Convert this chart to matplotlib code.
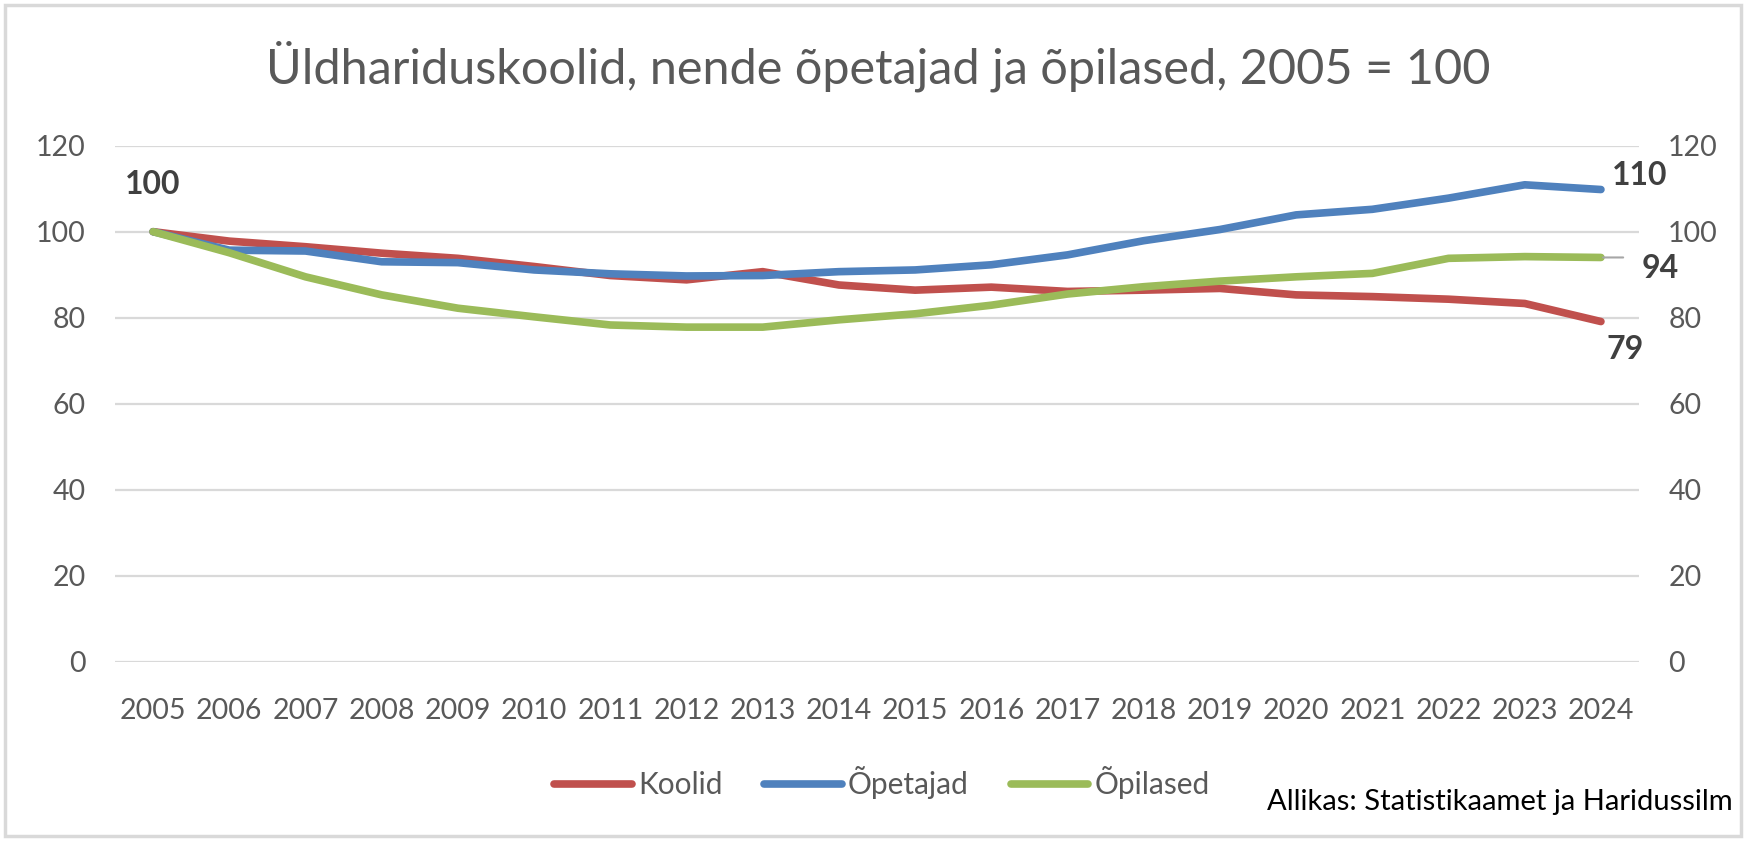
import matplotlib.pyplot as plt
from matplotlib.patches import Rectangle

plt.rcParams["font.family"] = ["Lato", "DejaVu Sans"]

years = [str(y) for y in range(2005, 2025)]
koolid = [100, 97.8, 96.5, 95.0, 93.8, 91.9, 89.8, 88.8, 90.7, 87.6,
          86.4, 87.1, 86.1, 86.4, 86.8, 85.3, 84.9, 84.3, 83.3, 79.1]
opetajad = [100, 95.7, 95.5, 93.0, 92.8, 91.1, 90.2, 89.7, 89.8, 90.7,
            91.1, 92.3, 94.6, 97.9, 100.5, 103.9, 105.2, 107.8, 110.9, 109.8]
opilased = [100, 95.1, 89.5, 85.3, 82.2, 80.2, 78.3, 77.8, 77.8, 79.5,
            80.9, 82.9, 85.5, 87.2, 88.5, 89.5, 90.3, 93.8, 94.2, 94.0]
yticks = [0, 20, 40, 60, 80, 100, 120]

title = "Üldhariduskoolid, nende õpetajad ja õpilased, 2005 = 100"
source = "Allikas: Statistikaamet ja Haridussilm"

RED = "#C0504D"
BLUE = "#4F81BD"
GREEN = "#9BBB59"
GRID = "#d9d9d9"
TXT = "#595959"
LBL = "#404040"

fig = plt.figure(figsize=(17.5, 8.41), dpi=100)
ax = fig.add_axes([0.0657, 0.2132, 0.8709, 0.6136])

x = list(range(len(years)))
style = dict(linewidth=5.5, solid_capstyle="round", solid_joinstyle="round")
ax.plot(x, koolid, color=RED, label="Koolid", **style)
ax.plot(x, opetajad, color=BLUE, label="Õpetajad", **style)
ax.plot(x, opilased, color=GREEN, label="Õpilased", **style)

ax.set_xlim(-0.5, len(years) - 0.5)
ax.set_ylim(0, 120)
ax.set_yticks(yticks)
ax.set_xticks(x)
ax.set_xticklabels(years)
ax.grid(axis="y", color=GRID, linewidth=1.6)
ax.set_axisbelow(True)
for s in ax.spines.values():
    s.set_visible(False)
ax.tick_params(axis="x", length=0, pad=26, labelsize=20.5, labelcolor=TXT)
ax.tick_params(axis="y", length=0, pad=21, labelsize=20.5, labelcolor=TXT)

ax2 = ax.twinx()
ax2.set_ylim(0, 120)
ax2.set_yticks(yticks)
for s in ax2.spines.values():
    s.set_visible(False)
ax2.tick_params(axis="y", length=0, pad=21, labelsize=20.5, labelcolor=TXT)

# data labels
lab = dict(fontsize=23, fontweight="bold", color=LBL, textcoords="offset points")
ax.annotate(f"{round(koolid[0])}", (x[0], koolid[0]), xytext=(0, 34),
            ha="center", va="center", **lab)
ax.annotate(f"{round(opetajad[-1])}", (x[-1], opetajad[-1]), xytext=(8, 10),
            ha="left", va="center", **lab)
ax.annotate(f"{round(opilased[-1])}", (x[-1], opilased[-1]), xytext=(29, -8),
            ha="left", va="center", **lab)
ax.annotate(f"{round(koolid[-1])}", (x[-1], koolid[-1]), xytext=(4, -20),
            ha="left", va="center", **lab)
ax.annotate("", (x[-1], opilased[-1]), xytext=(16, 0), textcoords="offset points",
            arrowprops=dict(arrowstyle="-", color="#a6a6a6", lw=1.5,
                            shrinkA=0, shrinkB=1.5))

fig.text(0.502, 0.901, title, ha="center", va="baseline", fontsize=35, color=TXT)

fig.legend(loc="center", bbox_to_anchor=(0.504, 0.069), ncol=3, frameon=False,
           fontsize=21.5, labelcolor=TXT, handlelength=2.6, handletextpad=0.2,
           columnspacing=1.4)

fig.text(0.99, 0.046, source, ha="right", va="center", fontsize=21, color="black")

fig.add_artist(Rectangle((0.003, 0.006), 0.992, 0.988, transform=fig.transFigure,
                         fill=False, edgecolor=GRID, linewidth=2.5))

fig.savefig("out.png", dpi=100)
